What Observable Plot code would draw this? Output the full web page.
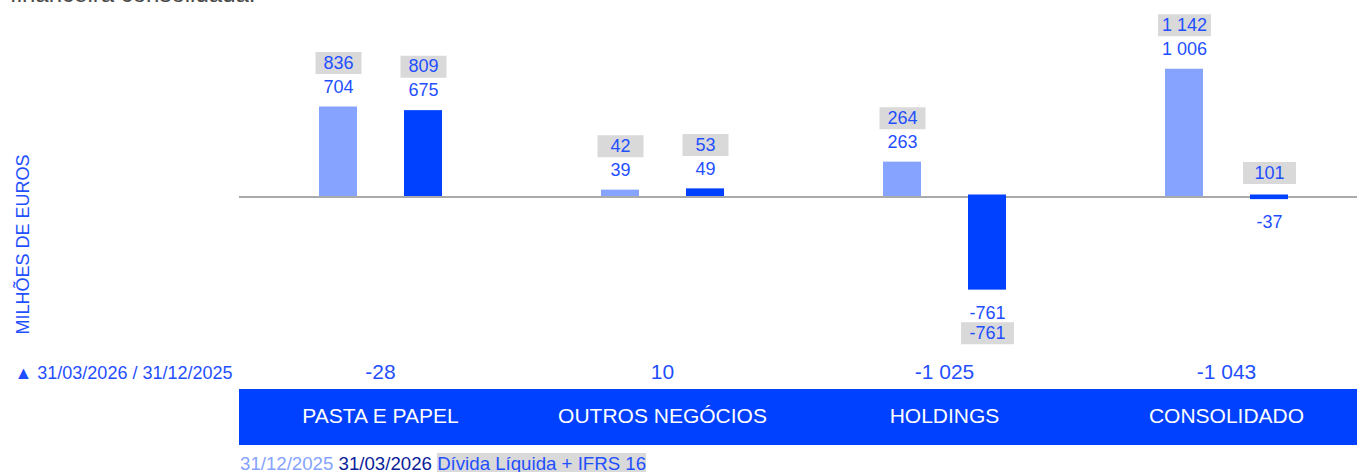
<!DOCTYPE html>
<html>
<head>
<meta charset="utf-8">
<script src="https://cdn.jsdelivr.net/npm/d3@7"></script>
<script src="https://cdn.jsdelivr.net/npm/@observablehq/plot@0.6"></script>
<style>
  html, body { margin: 0; padding: 0; background: #fff; }
  body { position: relative; width: 1357px; height: 472px; overflow: hidden; font-family: "Liberation Sans", Arial, sans-serif; }
  #chart { position: absolute; left: 0; top: 0; }
  #title { position: absolute; left: 10px; top: -20px; font-size: 24px; color: #4a4a4a; white-space: nowrap; }
  #legend { position: absolute; left: 240px; top: 453px; font-size: 18.67px; white-space: nowrap; }
</style>
</head>
<body>
<div id="chart"></div>
<div id="title"></div>
<div id="legend"></div>
<script>
// ---- data ----
const categories = ["PASTA E PAPEL", "OUTROS NEGÓCIOS", "HOLDINGS", "CONSOLIDADO"];
const series = ["31/12/2025", "31/03/2026"];
const values2025 = [704, 39, 263, 1006];
const values2026 = [675, 49, -761, -37];
const netDebt2025 = [836, 42, 264, 1142];
const netDebt2026 = [809, 53, -761, 101];
const deltas = [-28, 10, -1025, -1043];
const yLabel = "MILHÕES DE EUROS";
const deltaLabel = "▲ " + series[1] + " / " + series[0];
const netDebtLabel = "Dívida Líquida + IFRS 16";
const titleText = "financeira consolidada.";

// ---- styles ----
const lightBlue = "#85a3ff";
const darkBlue = "#0041ff";
const textBlue = "#1f4fff";
const grayBox = "#d9d9d9";
const legendDark = "#0a2299";

const fmt = d3.formatLocale({decimal: ",", thousands: " ", grouping: [3], currency: ["", ""], minus: "-"}).format(",d");

const rows = categories.flatMap((cat, i) => [
  {cat, series: series[0], value: values2025[i], netDebt: netDebt2025[i]},
  {cat, series: series[1], value: values2026[i], netDebt: netDebt2026[i]}
]);
const deltaRows = categories.map((cat, i) => ({cat, delta: deltas[i]}));
const firstFacet = [{cat: categories[0]}];

// rectangular "symbol" used as label background; width comes from r (identity scale)
const boxSymbol = {
  draw(context, size) {
    const w = Math.sqrt(size / Math.PI);
    context.rect(-w / 2, -11, w, 22);
  }
};
const boxWidth = d => (fmt(d.netDebt).length >= 4 || d.value < 0 && d.netDebt >= 0) ? 53 : 46;

const ndCases = [
  {filter: d => d.netDebt >= 0 && d.value >= 0, y: "value", dy: -44},
  {filter: d => d.netDebt >= 0 && d.value < 0, y: () => 0, dy: -22},
  {filter: d => d.netDebt < 0, y: "value", dy: 43}
];

const plot = Plot.plot({
  width: 1357,
  height: 445,
  marginTop: 43,
  marginBottom: 0,
  marginLeft: 239,
  marginRight: 0,
  facet: {margin: 0},
  style: {fontFamily: "'Liberation Sans', Arial, sans-serif", background: "transparent"},
  fx: {domain: categories, range: [239, 1367], padding: 0, label: null},
  x: {domain: series, paddingInner: 0.553, paddingOuter: 0.935, axis: null},
  y: {domain: [-1000, 1200], range: [319.5, 44.5], axis: null},
  r: {type: "identity"},
  color: {domain: series, range: [lightBlue, darkBlue]},
  marks: [
    Plot.frame({fill: darkBlue, stroke: darkBlue, insetTop: 346}),
    Plot.ruleY([0], {stroke: "#555", strokeWidth: 1, dy: 2}),
    Plot.barY(rows, {filter: d => d.value >= 0, fx: "cat", x: "series", y: "value", fill: "series", insetBottom: -1.5}),
    Plot.barY(rows, {filter: d => d.value < 0, fx: "cat", x: "series", y: "value", fill: "series"}),
    // value labels
    Plot.text(rows, {filter: d => d.value >= 0, fx: "cat", x: "series", y: "value", text: d => fmt(d.value), dy: -20, fill: textBlue, fontSize: 18}),
    Plot.text(rows, {filter: d => d.value < 0, fx: "cat", x: "series", y: "value", text: d => fmt(d.value), dy: 23, fill: textBlue, fontSize: 18}),
    // net debt labels on gray boxes
    ...ndCases.flatMap(c => [
      Plot.dot(rows, {filter: c.filter, fx: "cat", x: "series", y: c.y, dy: c.dy, symbol: boxSymbol, r: boxWidth, fill: grayBox}),
      Plot.text(rows, {filter: c.filter, fx: "cat", x: "series", y: c.y, dy: c.dy, text: d => fmt(d.netDebt), fill: textBlue, fontSize: 18})
    ]),
    // delta row
    Plot.text(deltaRows, {fx: "cat", text: d => fmt(d.delta), frameAnchor: "bottom", dy: -67, fill: textBlue, fontSize: 21}),
    Plot.text(firstFacet, {fx: "cat", text: () => deltaLabel, frameAnchor: "bottom-left", textAnchor: "end", dx: -7, dy: -67, fill: textBlue, fontSize: 18}),
    // y title
    Plot.text(firstFacet, {fx: "cat", text: () => yLabel, frameAnchor: "left", textAnchor: "middle", rotate: -90, dx: -216, fill: textBlue, fontSize: 18}),
    // category axis inside the blue band
    Plot.axisFx({anchor: "bottom", tickSize: 0, tickPadding: -37, fill: "white", fontSize: 21, label: null})
  ]
});

document.getElementById("chart").append(plot);

// legend
const legend = document.getElementById("legend");
const mk = (txt, style) => { const s = document.createElement("span"); s.textContent = txt; Object.assign(s.style, style); return s; };
legend.append(
  mk(series[0], {color: lightBlue}), " ",
  mk(series[1], {color: legendDark}), " ",
  mk(netDebtLabel, {color: textBlue, background: grayBox})
);
document.getElementById("title").textContent = titleText;
</script>
</body>
</html>
